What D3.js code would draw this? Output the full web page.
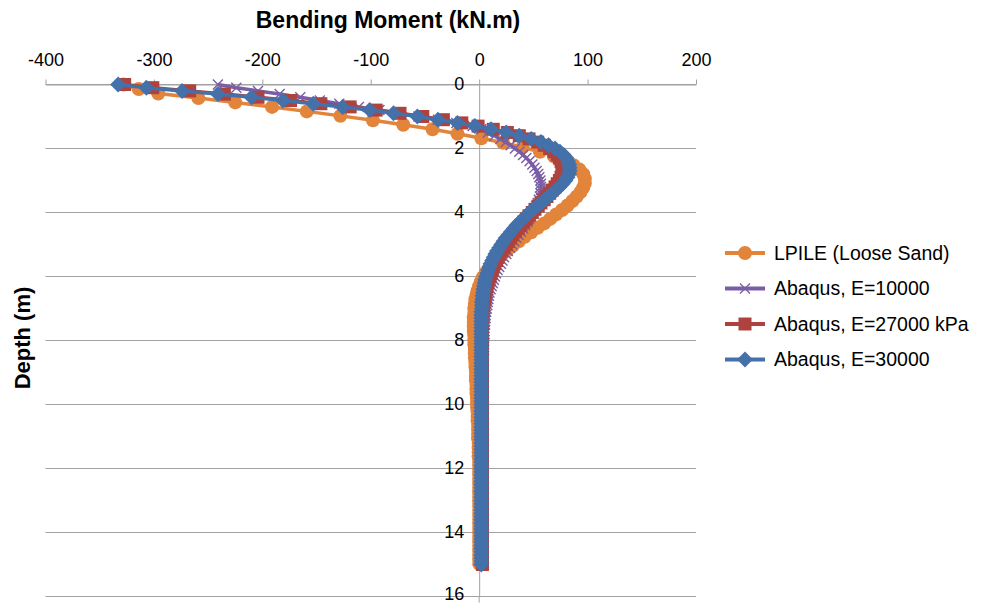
<!DOCTYPE html>
<html>
<head>
<meta charset="utf-8">
<script src="https://cdn.jsdelivr.net/npm/d3@7"></script>
<style>
body { margin: 0; background: #fff; }
text { font-family: "Liberation Sans", Arial, Helvetica, sans-serif; }
</style>
</head>
<body>
<script>
// tick labels
var momentTicks = [-400, -300, -200, -100, 0, 100, 200];
var depthTicks = [0, 2, 4, 6, 8, 10, 12, 14, 16];

var seriesNames = ["LPILE (Loose Sand)", "Abaqus, E=10000", "Abaqus, E=27000 kPa", "Abaqus, E=30000"];

// LPILE depths (m)
var lpileDepth = [0, 0.14, 0.28, 0.42, 0.56, 0.7, 0.84, 0.98, 1.12, 1.26, 1.4, 1.54, 1.68, 1.82, 1.96,
  2.1, 2.24, 2.38, 2.52, 2.66, 2.8, 2.94, 3.08, 3.22, 3.36, 3.5, 3.64, 3.78, 3.92, 4.06, 4.2, 4.34,
  4.48, 4.62, 4.76, 4.9, 5.04, 5.18, 5.32, 5.46, 5.6, 5.74, 5.88, 6.02, 6.16, 6.3, 6.44, 6.58, 6.72,
  6.86, 7, 7.14, 7.28, 7.42, 7.56, 7.7, 7.84, 7.98, 8.12, 8.26, 8.4, 8.54, 8.68, 8.82, 8.96, 9.1,
  9.24, 9.38, 9.52, 9.66, 9.8, 9.94, 10.08, 10.22, 10.36, 10.5, 10.64, 10.78, 10.92, 11.06, 11.2,
  11.34, 11.48, 11.62, 11.76, 11.9, 12.04, 12.18, 12.32, 12.46, 12.6, 12.74, 12.88, 13.02, 13.16,
  13.3, 13.44, 13.58, 13.72, 13.86, 14, 14.14, 14.28, 14.42, 14.56, 14.7, 14.84, 14.98];

// LPILE bending moment (kN.m)
var lpileMoment = [-328, -314, -296, -259, -225, -191, -159, -128, -98, -70, -43, -20, 2,
  22, 40, 56, 69, 79, 87, 92.5, 96, 97.5, 97.5,
  96, 93.5, 90, 86, 81.5, 76.5, 71, 65.5, 60, 54,
  48, 42, 36.5, 31, 26, 21, 16.5, 12.5, 9, 6,
  3.5, 1.5, 0, -1.5, -2.5, -3.5, -4, -4.5, -4.5, -5,
  -5, -5, -5, -4.5, -4.5,
  -4.5, -4, -4, -4, -3.5, -3.5, -3,
  -3, -3, -2.5, -2.5, -2.5, -2, -2,
  -2, -1.5, -1.5, -1.5, -1, -1, -1,
  -1, -0.5, -0.5, -0.5, -0.5, 0, 0,
  0, 0, 0, 0, 0, 0, 0, 0, 0, 0, 0, 0, 0, 0, 0, 0, 0, 0, 0, 0, 0, 0];

// Abaqus depths (m)
var abaqusDepth = [0, 0.1, 0.2, 0.3, 0.4, 0.5, 0.6, 0.7, 0.8, 0.9, 1, 1.1, 1.2, 1.3, 1.4, 1.5, 1.6,
  1.7, 1.8, 1.9, 2, 2.1, 2.2, 2.3, 2.4, 2.5, 2.6, 2.7, 2.8, 2.9, 3, 3.1, 3.2, 3.3, 3.4, 3.5, 3.6,
  3.7, 3.8, 3.9, 4, 4.1, 4.2, 4.3, 4.4, 4.5, 4.6, 4.7, 4.8, 4.9, 5, 5.1, 5.2, 5.3, 5.4, 5.5, 5.6,
  5.7, 5.8, 5.9, 6, 6.1, 6.2, 6.3, 6.4, 6.5, 6.6, 6.7, 6.8, 6.9, 7, 7.1, 7.2, 7.3, 7.4, 7.5, 7.6,
  7.7, 7.8, 7.9, 8, 8.1, 8.2, 8.3, 8.4, 8.5, 8.6, 8.7, 8.8, 8.9, 9, 9.1, 9.2, 9.3, 9.4, 9.5, 9.6,
  9.7, 9.8, 9.9, 10, 10.1, 10.2, 10.3, 10.4, 10.5, 10.6, 10.7, 10.8, 10.9, 11, 11.1, 11.2, 11.3,
  11.4, 11.5, 11.6, 11.7, 11.8, 11.9, 12, 12.1, 12.2, 12.3, 12.4, 12.5, 12.6, 12.7, 12.8, 12.9,
  13, 13.1, 13.2, 13.3, 13.4, 13.5, 13.6, 13.7, 13.8, 13.9, 14, 14.1, 14.2, 14.3, 14.4, 14.5,
  14.6, 14.7, 14.8, 14.9, 15];

// Abaqus E=10000
var moment10000 = [-241, -224, -204, -184, -165, -147, -129, -111, -92, -74, -56, -38, -21, -6, 2,
  8, 14, 19.5, 24.5, 29, 33,
  37, 40.5, 43.5, 46.5, 49, 51, 53, 54.5, 55.5, 56.5,
  57, 57, 57, 56.5, 56, 55, 54, 52.5, 51, 49.5,
  48, 46, 44.5, 42.5, 40.5, 38.5, 36.5, 34.5, 32.5, 30.5,
  28.5, 26.5, 25, 23, 21.5, 20, 18.5, 17, 15.5, 14.5,
  13.5, 12.5, 11.5, 10.5, 9.5, 9, 8.5, 8, 7.5, 7,
  6.5, 6, 6, 5.5, 5.5, 5, 5, 5, 4.5, 4.5,
  4.5, 4.5, 4.5, 4, 4, 4, 4, 4, 4, 4,
  4, 4, 4, 4, 4, 4, 4, 4, 4, 4,
  4, 4, 4, 4, 4, 4, 4, 4, 4, 4,
  4, 4, 4, 4, 4, 4, 4, 4, 4, 4,
  4, 4, 4, 4, 4, 4, 4, 4, 4, 4,
  4, 4, 4, 4, 4, 4, 4, 4, 4, 4,
  4, 4, 4, 4, 4, 4, 4, 4, 4, 4];

// Abaqus E=27000 kPa
var moment27000 = [-327, -301, -267, -235, -204, -174, -146, -119, -95, -73, -52, -33, -16, -1, 13,
  26, 37, 46, 54, 60, 65,
  69, 72, 74, 75.5, 76.5, 77, 77, 76.5, 75.5, 74,
  72, 70, 67.5, 65, 62.5, 60, 57, 54.5, 51.5, 49,
  46, 43.5, 41, 38.5, 36, 33.5, 31, 29, 27, 25,
  23, 21, 19, 17.5, 16, 14.5, 13, 12, 11, 10,
  9, 8, 7, 6.5, 6, 5.5, 5, 4.5, 4, 3.5,
  3.5, 3, 3, 3, 3, 3, 3, 3, 3, 3,
  3, 3, 3, 3, 3, 3, 3, 3, 3, 3,
  3, 3, 3, 3, 3, 3, 3, 3, 3, 3,
  3, 3, 3, 3, 3, 3, 3, 3, 3, 3,
  3, 3, 3, 3, 3, 3, 3, 3, 3, 3,
  3, 3, 3, 3, 3, 3, 3, 3, 3, 3,
  3, 3, 3, 3, 3, 3, 3, 3, 3, 3,
  3, 3, 3, 3, 3, 3, 3, 3, 3, 3];

// Abaqus E=30000
var moment30000 = [-333, -307, -274, -241, -210, -181, -153, -126, -101, -79, -57, -38, -20, -4, 11,
  25, 37, 48, 57, 64, 70,
  74.5, 78, 80.5, 82, 83, 83.5, 83.5, 83, 81.5, 79.5,
  77, 74, 71, 67.5, 64, 60.5, 57, 53.5, 50, 46.5,
  43.5, 40.5, 37.5, 34.5, 32, 29.5, 27, 24.5, 22.5, 20.5,
  18.5, 16.5, 15, 13.5, 12, 10.5, 9.5, 8.5, 7.5, 6.5,
  5.5, 5, 4.5, 4, 3.5, 3, 3, 2.5, 2.5, 2.5,
  2, 2, 2, 2, 2, 2, 2, 2, 2, 2,
  2, 2, 2, 2, 2, 2, 2, 2, 2, 2,
  2, 2, 2, 2, 2, 2, 2, 2, 2, 2,
  2, 2, 2, 2, 2, 2, 2, 2, 2, 2,
  2, 2, 2, 2, 2, 2, 2, 2, 2, 2,
  2, 2, 2, 2, 2, 2, 2, 2, 2, 2,
  2, 2, 2, 2, 2, 2, 2, 2, 2, 2,
  2, 2, 2, 2, 2, 2, 2, 2, 2, 2];

var colors = ["#e2843a", "#7a5ea5", "#ad423e", "#4571aa"];

var w = 984;
var h = 604;

var xScale = d3.scaleLinear().domain([-400, 200]).range([45.5, 696]);
var yScale = d3.scaleLinear().domain([0, 16]).range([84.5, 596.5]);

var svg = d3.select("body").append("svg")
    .attr("width", w)
    .attr("height", h);

// horizontal gridlines
svg.append("g")
    .selectAll("line")
    .data(depthTicks)
    .enter()
    .append("line")
    .attr("x1", xScale(-400))
    .attr("x2", xScale(200))
    .attr("y1", function(d) { return yScale(d); })
    .attr("y2", function(d) { return yScale(d); })
    .attr("stroke", "#a2a2a2")
    .attr("stroke-width", 1);

// top axis (moment), plain hyphen for negatives
var xAxis = d3.axisTop(xScale)
    .tickValues(momentTicks)
    .tickFormat(function(d) { return String(d); })
    .tickSize(5).tickSizeOuter(0).tickPadding(14);
var gx = svg.append("g")
    .attr("transform", "translate(0," + yScale(0) + ")")
    .call(xAxis);
gx.attr("font-size", null).attr("font-family", null);
gx.select(".domain").attr("stroke", "#a2a2a2");
gx.selectAll(".tick line").attr("stroke", "#a2a2a2");
gx.selectAll(".tick text").attr("fill", "#000").style("font-size", "18px");

// depth axis at zero moment
var yAxis = d3.axisLeft(yScale)
    .tickValues(depthTicks)
    .tickFormat(function(d) { return String(d); })
    .tickSize(0).tickSizeOuter(0).tickPadding(15);
var gy = svg.append("g")
    .attr("transform", "translate(" + xScale(0) + ",0)")
    .call(yAxis);
gy.attr("font-size", null).attr("font-family", null);
gy.select(".domain").attr("stroke", "#a2a2a2");
gy.selectAll(".tick text")
    .attr("fill", "#000")
    .attr("dy", function(d) { return d === 16 ? "0.15em" : "0.3em"; }) // keep the last label inside the frame
    .style("font-size", "18px");
svg.append("line")
    .attr("x1", xScale(0)).attr("x2", xScale(0))
    .attr("y1", yScale(16)).attr("y2", yScale(16) + 6)
    .attr("stroke", "#a2a2a2");

var line = d3.line()
    .x(function(d) { return xScale(d[1]); })
    .y(function(d) { return yScale(d[0]); });

function marker(sel, k) {
    if (k === 0) {
        sel.append("circle").attr("r", 7).attr("fill", colors[0]);
    } else if (k === 1) {
        sel.append("path").attr("d", "M-5,-5L5,5M-5,5L5,-5")
            .attr("stroke", colors[1]).attr("stroke-width", 1.4).attr("fill", "none");
    } else if (k === 2) {
        sel.append("rect").attr("x", -6.5).attr("y", -6.5).attr("width", 13).attr("height", 13)
            .attr("fill", colors[2]);
    } else {
        sel.append("path").attr("d", "M0,-8L8,0L0,8L-8,0Z").attr("fill", colors[3]);
    }
}

var seriesData = [
    d3.zip(lpileDepth, lpileMoment),
    d3.zip(abaqusDepth, moment10000),
    d3.zip(abaqusDepth, moment27000),
    d3.zip(abaqusDepth, moment30000)
];

seriesData.forEach(function(data, k) {
    var g = svg.append("g");
    g.append("path")
        .datum(data)
        .attr("d", line)
        .attr("fill", "none")
        .attr("stroke", colors[k])
        .attr("stroke-width", 3.5)
        .attr("stroke-linejoin", "round");
    g.selectAll("g.pt")
        .data(data)
        .enter()
        .append("g")
        .attr("class", "pt")
        .attr("transform", function(d) { return "translate(" + xScale(d[1]) + "," + yScale(d[0]) + ")"; })
        .each(function() { marker(d3.select(this), k); });
});

// legend
var legend = svg.append("g")
    .selectAll("g")
    .data(seriesNames)
    .enter()
    .append("g")
    .attr("transform", function(d, i) { return "translate(745," + (253 + i * 35.5) + ")"; });
legend.append("line")
    .attr("x1", -20).attr("x2", 20)
    .attr("stroke", function(d, i) { return colors[i]; })
    .attr("stroke-width", 4);
legend.each(function(d, i) { marker(d3.select(this), i); });
legend.append("text")
    .attr("x", 29)
    .attr("dy", "0.35em")
    .style("font-size", "19.5px")
    .text(function(d) { return d; });

// axis titles
svg.append("text")
    .attr("text-anchor", "middle")
    .attr("x", 388)
    .attr("y", 28)
    .style("font-size", "23px")
    .style("font-weight", "bold")
    .text("Bending Moment (kN.m)");

svg.append("text")
    .attr("text-anchor", "middle")
    .attr("transform", "translate(30,338) rotate(-90)")
    .style("font-size", "22px")
    .style("font-weight", "bold")
    .text("Depth (m)");
</script>
</body>
</html>
